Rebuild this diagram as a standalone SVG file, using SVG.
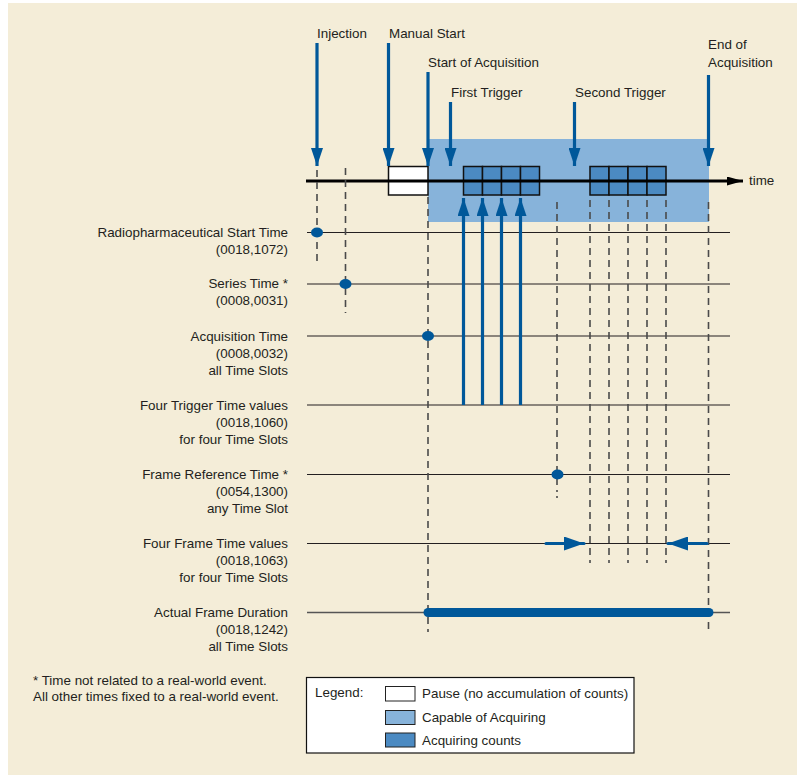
<svg xmlns="http://www.w3.org/2000/svg" width="797" height="775" viewBox="0 0 797 775">
<defs>
<style>
text{font-family:"Liberation Sans",Arial,sans-serif;font-size:13.4px;fill:#231f20}
.r{text-anchor:end}
.row{stroke:#231f20;stroke-width:1.2}
.dash{stroke:#4a4a4a;stroke-width:1.6;stroke-dasharray:7,5;fill:none}
.blue{stroke:#00589a;stroke-width:3.2;fill:none}
.dot{fill:#00589a}
.cell{fill:#4b8ac2;stroke:#111;stroke-width:1.5}
</style>
<marker id="ahd" viewBox="0 0 18 12" refX="18" refY="6" markerWidth="18" markerHeight="12" markerUnits="userSpaceOnUse" orient="auto">
<path d="M0,0 L18,6 L0,12 Z" fill="#00589a"/>
</marker>
<marker id="ahs" viewBox="0 0 20 14" refX="20" refY="7" markerWidth="20" markerHeight="14" markerUnits="userSpaceOnUse" orient="auto">
<path d="M0,0 L20,7 L0,14 Z" fill="#00589a"/>
</marker>
<marker id="tk" viewBox="0 0 16 9" refX="16" refY="4.5" markerWidth="16" markerHeight="9" markerUnits="userSpaceOnUse" orient="auto">
<path d="M0,0 L16,4.5 L0,9 Z" fill="#000"/>
</marker>
</defs>
<rect x="0" y="0" width="797" height="775" fill="#ffffff"/>
<rect x="8" y="3" width="789" height="772" fill="#f4edd8"/>

<g id="capable-region">
<rect x="428" y="139" width="281" height="83" fill="#87b3da"/>
</g>
<g id="pause-block">
<rect x="388.5" y="166.5" width="39.5" height="28.5" fill="#ffffff" stroke="#111" stroke-width="1.5"/>
</g>
<g id="acq-group-1">
<rect class="cell" x="463.5" y="166.5" width="19" height="28.5"/>
<rect class="cell" x="482.5" y="166.5" width="19" height="28.5"/>
<rect class="cell" x="501.5" y="166.5" width="19" height="28.5"/>
<rect class="cell" x="520.5" y="166.5" width="19" height="28.5"/>
</g>
<g id="acq-group-2">
<rect class="cell" x="590" y="166.5" width="19" height="28.5"/>
<rect class="cell" x="609" y="166.5" width="19" height="28.5"/>
<rect class="cell" x="628" y="166.5" width="19" height="28.5"/>
<rect class="cell" x="647" y="166.5" width="19" height="28.5"/>
</g>

<g id="connectors">
<line x1="306" y1="181" x2="743" y2="181" stroke="#000" stroke-width="3" marker-end="url(#tk)"/>
<line class="blue" x1="317" y1="43" x2="317" y2="166" marker-end="url(#ahd)"/>
<line class="blue" x1="388.5" y1="43" x2="388.5" y2="166" marker-end="url(#ahd)"/>
<line class="blue" x1="428" y1="72" x2="428" y2="166" marker-end="url(#ahd)"/>
<line class="blue" x1="450.5" y1="102" x2="450.5" y2="166" marker-end="url(#ahd)"/>
<line class="blue" x1="574.5" y1="102" x2="574.5" y2="166" marker-end="url(#ahd)"/>
<line class="blue" x1="708.5" y1="75" x2="708.5" y2="166" marker-end="url(#ahd)"/>
<line class="row" x1="307" y1="232.5" x2="730" y2="232.5"/>
<line class="row" x1="307" y1="284" x2="730" y2="284"/>
<line class="row" x1="307" y1="336" x2="730" y2="336"/>
<line class="row" x1="307" y1="405" x2="730" y2="405"/>
<line class="row" x1="307" y1="474.5" x2="730" y2="474.5"/>
<line class="row" x1="307" y1="543.5" x2="730" y2="543.5"/>
<line x1="307" y1="612.5" x2="730" y2="612.5" stroke="#555" stroke-width="1.5"/>
<line class="dash" x1="317" y1="170" x2="317" y2="263"/>
<line class="dash" x1="345.5" y1="168" x2="345.5" y2="313"/>
<line class="dash" x1="428" y1="197" x2="428" y2="632"/>
<line class="dash" x1="557" y1="202" x2="557" y2="492"/>
<line class="dash" x1="557" y1="496" x2="557" y2="498"/>
<line class="dash" x1="590" y1="200" x2="590" y2="563"/>
<line class="dash" x1="609" y1="200" x2="609" y2="563"/>
<line class="dash" x1="628" y1="200" x2="628" y2="563"/>
<line class="dash" x1="647" y1="200" x2="647" y2="563"/>
<line class="dash" x1="666" y1="200" x2="666" y2="563"/>
<line class="dash" x1="708.5" y1="202" x2="708.5" y2="632"/>
<line class="blue" x1="463.5" y1="405" x2="463.5" y2="198" marker-end="url(#ahd)"/>
<line class="blue" x1="482.5" y1="405" x2="482.5" y2="198" marker-end="url(#ahd)"/>
<line class="blue" x1="501.5" y1="405" x2="501.5" y2="198" marker-end="url(#ahd)"/>
<line class="blue" x1="520.5" y1="405" x2="520.5" y2="198" marker-end="url(#ahd)"/>
<line class="blue" x1="546" y1="543.5" x2="584" y2="543.5" stroke-linecap="round" marker-end="url(#ahs)"/>
<line class="blue" x1="707" y1="543.5" x2="668" y2="543.5" stroke-linecap="round" marker-end="url(#ahs)"/>
<line x1="428" y1="612.5" x2="709" y2="612.5" stroke="#00589a" stroke-width="9" stroke-linecap="round"/>
<ellipse class="dot" cx="317" cy="232.5" rx="6" ry="5"/>
<ellipse class="dot" cx="345.5" cy="284" rx="6" ry="5"/>
<ellipse class="dot" cx="428" cy="336" rx="6" ry="5"/>
<ellipse class="dot" cx="557.5" cy="474.5" rx="6" ry="5"/>
</g>

<g id="event-labels">
<text x="317" y="38">Injection</text>
<text x="389" y="38">Manual Start</text>
<text x="428" y="67">Start of Acquisition</text>
<text x="451" y="97">First Trigger</text>
<text x="575" y="97">Second Trigger</text>
<text x="708" y="49">End of</text>
<text x="708" y="67">Acquisition</text>
<text x="749" y="185">time</text>
</g>

<g id="row-labels">
<text class="r" x="288" y="237">Radiopharmaceutical Start Time</text>
<text class="r" x="288" y="254">(0018,1072)</text>
<text class="r" x="288" y="288">Series Time *</text>
<text class="r" x="288" y="305">(0008,0031)</text>
<text class="r" x="288" y="340.5">Acquisition Time</text>
<text class="r" x="288" y="357.5">(0008,0032)</text>
<text class="r" x="288" y="374.5">all Time Slots</text>
<text class="r" x="288" y="409.5">Four Trigger Time values</text>
<text class="r" x="288" y="426.5">(0018,1060)</text>
<text class="r" x="288" y="443.5">for four Time Slots</text>
<text class="r" x="288" y="479">Frame Reference Time *</text>
<text class="r" x="288" y="496">(0054,1300)</text>
<text class="r" x="288" y="513">any Time Slot</text>
<text class="r" x="288" y="548">Four Frame Time values</text>
<text class="r" x="288" y="565">(0018,1063)</text>
<text class="r" x="288" y="582">for four Time Slots</text>
<text class="r" x="288" y="617">Actual Frame Duration</text>
<text class="r" x="288" y="634">(0018,1242)</text>
<text class="r" x="288" y="651">all Time Slots</text>
</g>

<g id="footnote">
<text x="33" y="685">* Time not related to a real-world event.</text>
<text x="33" y="701">All other times fixed to a real-world event.</text>
</g>

<g id="legend">
<rect x="306.5" y="677.5" width="327.5" height="75.5" fill="#ffffff" stroke="#111" stroke-width="1.2"/>
<text x="315" y="697">Legend:</text>
<rect x="385.5" y="686.5" width="29.5" height="14.5" fill="#ffffff" stroke="#222" stroke-width="1"/>
<rect x="385.5" y="710.5" width="29.5" height="14" fill="#87b3da" stroke="#222" stroke-width="1"/>
<rect x="385.5" y="733" width="29.5" height="14" fill="#4b8ac2" stroke="#222" stroke-width="1"/>
<text x="422" y="698">Pause (no accumulation of counts)</text>
<text x="422" y="722">Capable of Acquiring</text>
<text x="422" y="745">Acquiring counts</text>
</g>
</svg>
